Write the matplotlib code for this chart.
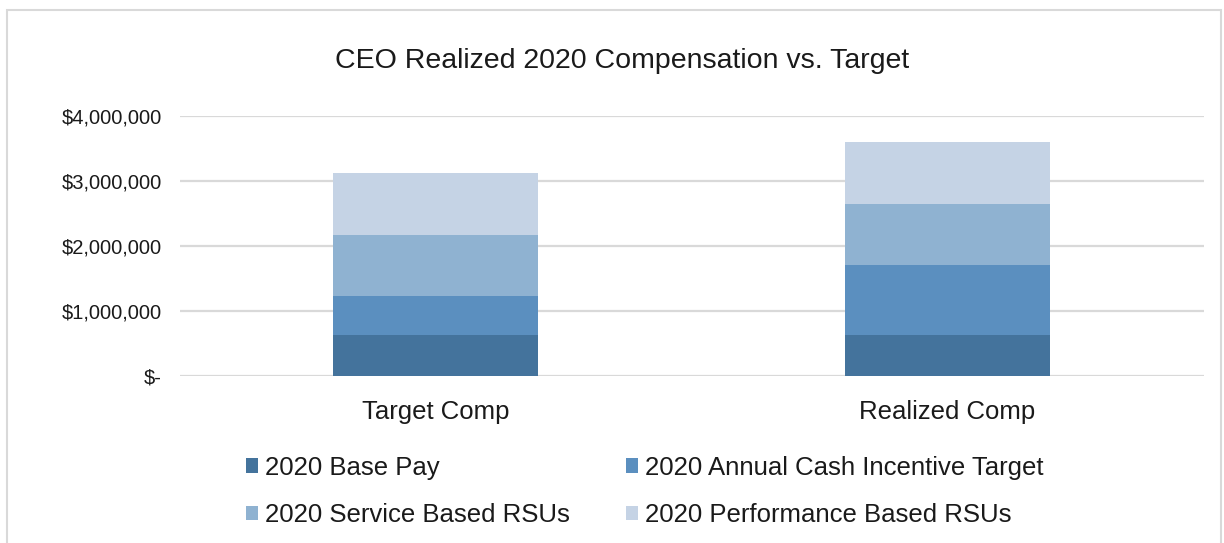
import matplotlib
matplotlib.use('Agg')
import matplotlib.pyplot as plt
from matplotlib.patches import Rectangle
from matplotlib.ticker import FuncFormatter

plt.rcParams['font.family'] = ['Liberation Sans', 'DejaVu Sans']

# Daten
categories = ['Target Comp', 'Realized Comp']
series_names = ['2020 Base Pay', '2020 Annual Cash Incentive Target',
                '2020 Service Based RSUs', '2020 Performance Based RSUs']
base_pay = [625000, 625000]
cash_incentive = [605000, 1075000]
service_rsus = [940000, 945000]
performance_rsus = [960000, 950000]
colors = ['#44739c', '#5b8fbf', '#8fb2d1', '#c5d3e5']
yticks = [0, 1000000, 2000000, 3000000, 4000000]

fig = plt.figure(figsize=(12.24, 5.43), dpi=100)
ax = fig.add_axes([0.1467, 0.3076, 0.8366, 0.4788])

values = [base_pay, cash_incentive, service_rsus, performance_rsus]
x = range(len(categories))
bottom = [0, 0]
bars = []
for name, vals, c in zip(series_names, values, colors):
    b = ax.bar(x, vals, 0.4, bottom=bottom, color=c, label=name, zorder=3)
    bars.append(b)
    bottom = [b0 + v for b0, v in zip(bottom, vals)]

ax.set_xlim(-0.5, 1.5)
ax.set_ylim(0, 4000000)
ax.set_yticks(yticks)
ax.yaxis.set_major_formatter(FuncFormatter(lambda v, p: '$-' if v == 0 else '${:,.0f}'.format(v)))
ax.set_xticks(list(x))
ax.set_xticklabels(categories, fontsize=18.5, color='#1a1a1a')
ax.tick_params(axis='y', labelsize=14.5, colors='#1a1a1a', length=0, pad=13)
ax.tick_params(axis='x', length=0, pad=17)
ax.grid(axis='y', color='#d9d9d9', linewidth=1.6, zorder=0)
for s in ax.spines.values():
    s.set_visible(False)

fig.text(0.508, 0.888, 'CEO Realized 2020 Compensation vs. Target', ha='center', va='center',
         fontsize=20.5, color='#1a1a1a')

# Legende (zeilenweise Reihenfolge)
order = [0, 2, 1, 3]
fig.legend([bars[i] for i in order], [series_names[i] for i in order], ncol=2,
           loc='center left', bbox_to_anchor=(0.1822, 0.0948), frameon=False, fontsize=18.5,
           handlelength=0.47, handleheight=0.47, handletextpad=0.28, columnspacing=2.15,
           labelspacing=0.93, labelcolor='#1a1a1a')

fig.patches.append(Rectangle((7 / 1224, -0.1), 1214 / 1224, 1.1 - 10 / 543, transform=fig.transFigure,
                             fill=False, edgecolor='#d9d9d9', linewidth=1.5))

fig.savefig('out.png', dpi=100)
